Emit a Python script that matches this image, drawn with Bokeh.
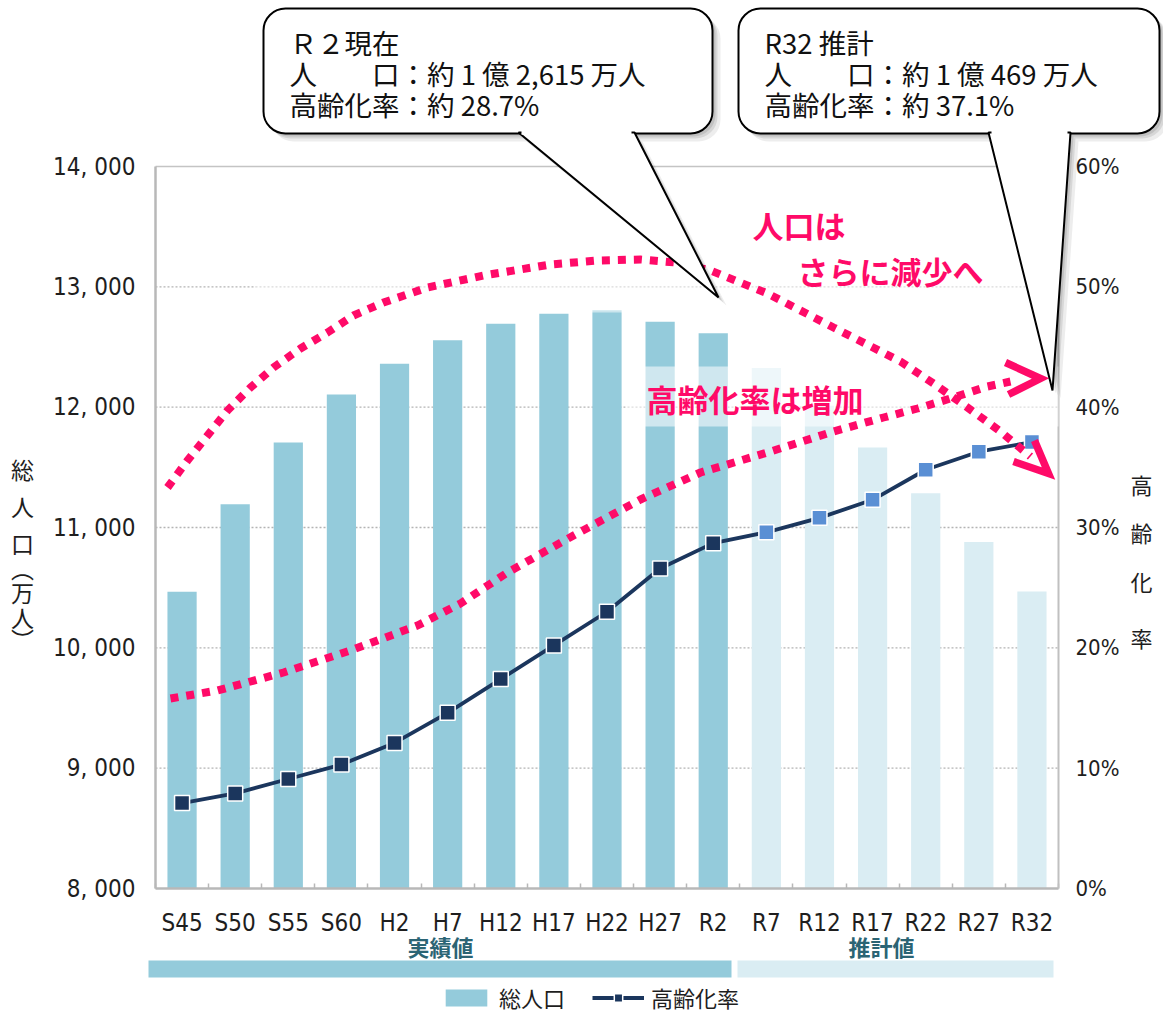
from bokeh.plotting import figure
from bokeh.models import (Range1d, LinearAxis, FixedTicker, Label, BoxAnnotation,
                          PolyAnnotation, Legend, LegendItem, ColumnDataSource)
from bokeh.core.properties import value
from bokeh.embed import file_html
from bokeh.resources import INLINE

# ---- data -------------------------------------------------------------
categories = ["S45", "S50", "S55", "S60", "H2", "H7", "H12", "H17", "H22", "H27",
              "R2", "R7", "R12", "R17", "R22", "R27", "R32"]
population = [10467, 11194, 11706, 12105, 12361, 12557, 12693, 12777, 12806, 12709,
              12615, 12326, 12012, 11664, 11284, 10880, 10469]          # 万人
aging_rate = [7.1, 7.9, 9.1, 10.3, 12.1, 14.6, 17.4, 20.2, 23.0, 26.6,
              28.7, 29.6, 30.8, 32.3, 34.8, 36.3, 37.1]                 # %
n_actual = 11  # S45 .. R2 are census results, the rest are projections

pop_ticks = [8000, 9000, 10000, 11000, 12000, 13000, 14000]
pop_tick_labels = ["8, 000", "9, 000", "10, 000", "11, 000", "12, 000", "13, 000", "14, 000"]
rate_ticks = [0, 10, 20, 30, 40, 50, 60]
rate_tick_labels = ["0%", "10%", "20%", "30%", "40%", "50%", "60%"]

# ---- styling ----------------------------------------------------------
ACT = "#94cbdb"
PROJ = "#daedf3"
NAVY = "#1b365d"
BLUE = "#5a8fd4"
PINK = "#ff0a68"
TEAL = "#2b6474"
GRID = "#b4b4b4"
AXIS = "#b8b8b8"
JP = "Noto Sans CJK JP"
NARROW = "DejaVu Sans Condensed, Liberation Sans Narrow, Roboto"

# The whole canvas is the plot frame; the value area sits inside it and the
# axes are pinned to its edges with fixed_location.
W, H = 1163, 1017
FL, FR, FT, FB = 155, 1058, 166, 888          # value-area edges on the canvas
x_lo, x_hi = -0.5, len(categories) - 0.5
y_lo, y_hi = pop_ticks[0], pop_ticks[-1]
r_lo, r_hi = rate_ticks[0], rate_ticks[-1]

PPX = (FR - FL) / (x_hi - x_lo)
PPY = (FB - FT) / (y_hi - y_lo)
x_start = x_lo - FL / PPX
x_end = x_start + W / PPX
y_start = y_lo - (H - FB) / PPY
y_end = y_start + H / PPY
r_per_y = (r_hi - r_lo) / (y_hi - y_lo)


def dx(px):
    """canvas x -> data x"""
    return x_start + px / PPX


def dy(py):
    """canvas y -> data y"""
    return y_end - py / PPY


p = figure(width=W, height=H, x_range=Range1d(x_start, x_end),
           y_range=Range1d(y_start, y_end),
           output_backend="svg", toolbar_location=None, title=None, min_border=0)
p.extra_y_ranges = {"rate": Range1d(r_lo + (y_start - y_lo) * r_per_y,
                                    r_lo + (y_end - y_lo) * r_per_y)}
p.background_fill_color = "white"
p.border_fill_color = "white"
p.outline_line_color = None
p.xgrid.visible = False
p.ygrid.visible = False

# x axis: labels at bar centres, small inward ticks between bars
xa = p.xaxis[0]
xa.fixed_location = y_lo
xa.bounds = (x_lo, x_hi)
xa.ticker = FixedTicker(ticks=list(range(len(categories))),
                        minor_ticks=[i + 0.5 for i in range(-1, len(categories))])
xa.major_label_overrides = {i: c for i, c in enumerate(categories)}
xa.major_tick_line_color = None
xa.minor_tick_in = 5
xa.minor_tick_out = 0
xa.minor_tick_line_color = AXIS
xa.minor_tick_line_width = 1.5
xa.axis_line_color = AXIS
xa.axis_line_width = 2.5
xa.major_label_text_font = NARROW
xa.major_label_text_font_size = "24px"
xa.major_label_text_color = "#1e1e1e"
xa.major_label_standoff = 14

# left axis: population
ya = p.yaxis[0]
ya.fixed_location = x_lo
ya.bounds = (y_lo, y_hi)
ya.ticker = FixedTicker(ticks=pop_ticks)
ya.major_label_overrides = dict(zip(pop_ticks, pop_tick_labels))
ya.major_tick_line_color = None
ya.minor_tick_line_color = None
ya.major_tick_out = 0
ya.axis_line_color = AXIS
ya.axis_line_width = 2.5
ya.major_label_text_font = NARROW
ya.major_label_text_font_size = "24px"
ya.major_label_text_color = "#1e1e1e"
ya.major_label_standoff = 20

# right axis: aging rate
ra = LinearAxis(y_range_name="rate", ticker=FixedTicker(ticks=rate_ticks),
                fixed_location=x_hi, bounds=(r_lo, r_hi))
ra.major_label_overrides = dict(zip(rate_ticks, rate_tick_labels))
ra.major_tick_line_color = None
ra.minor_tick_line_color = None
ra.major_tick_out = 0
ra.axis_line_color = "#c0c0c0"
ra.axis_line_width = 2
ra.major_label_text_font = NARROW
ra.major_label_text_font_size = "22px"
ra.major_label_text_color = "#1e1e1e"
ra.major_label_standoff = 17
p.add_layout(ra, "right")

# dotted horizontal grid and the thin top border of the value area
p.segment(x0=x_lo, x1=x_hi, y0=pop_ticks[1:-1], y1=pop_ticks[1:-1], line_color=GRID,
          line_dash="2 2", line_width=1.4, level="underlay")
p.segment(x0=x_lo, x1=x_hi, y0=y_hi, y1=y_hi, line_color="#c4c4c4", line_width=1.4,
          level="underlay")

# ---- series -----------------------------------------------------------
src = ColumnDataSource(dict(
    x=list(range(len(categories))),
    pop=population,
    rate=aging_rate,
    bar_color=[ACT if i < n_actual else PROJ for i in range(len(categories))],
    mk_color=[NAVY if i < n_actual else BLUE for i in range(len(categories))],
))
bars = p.vbar(x="x", top="pop", bottom=y_lo, width=0.55, fill_color="bar_color",
              line_color=None, source=src)

# translucent white panels behind the hand-written notes
p.add_layout(BoxAnnotation(left=dx(255), right=dx(FR), top=dy(168), bottom=dy(312),
                           fill_color="white", fill_alpha=0.5, line_color=None))
p.add_layout(BoxAnnotation(left=dx(625), right=dx(FR), top=dy(366), bottom=dy(426),
                           fill_color="white", fill_alpha=0.55, line_color=None))

rate_line = p.line("x", "rate", source=src, y_range_name="rate",
                   line_color=NAVY, line_width=3.8)
rate_pts = p.scatter("x", "rate", source=src, y_range_name="rate", marker="square",
                     size=15, fill_color="mk_color", line_color="white", line_width=1.5)

# ---- dotted trend arrows (canvas guide points) -----------------------
pop_trend = [(167, 487), (187, 460), (207, 435), (227, 410), (250, 387), (273, 367),
             (300, 348), (327, 332), (353, 315), (383, 302), (427, 287), (483, 275),
             (550, 264), (597, 260), (640, 259), (675, 262), (710, 270), (767, 293),
             (833, 327), (900, 361), (933, 383), (967, 407), (1000, 431), (1030, 456)]
pop_head = [(1013, 461), (1048, 473), (1034, 440)]
rate_trend = [(170, 698), (217, 690), (283, 672), (350, 650), (417, 625), (460, 603),
              (507, 572), (573, 535), (640, 499), (700, 472), (767, 452), (833, 431),
              (883, 417), (917, 408), (953, 397), (987, 386), (1010, 381)]
rate_head = [(1005, 362), (1040, 378), (1008, 394)]

for pts, head in ((pop_trend, pop_head), (rate_trend, rate_head)):
    p.line([dx(a) for a, b in pts], [dy(b) for a, b in pts], line_color=PINK,
           line_width=8, line_dash="8 8", level="overlay")
    p.line([dx(a) for a, b in head], [dy(b) for a, b in head], line_color=PINK,
           line_width=7.5, line_join="miter", level="overlay")

for txt, x0, y0 in (("人口は", 752, 224), ("さらに減少へ", 797, 270), ("高齢化率は増加", 646, 398)):
    p.add_layout(Label(x=dx(x0), y=dy(y0), text=txt, text_font=JP, text_font_size="31px",
                       text_font_style="bold", text_color=PINK, text_baseline="middle",
                       level="overlay"))


# ---- speech-bubble callouts ------------------------------------------
def callout(left, right, top, bottom, base_l, base_r, tip, lines, tx):
    for off, a in ((3, 0.10), (5, 0.09), (8, 0.07)):
        p.add_layout(BoxAnnotation(left=dx(left + off), right=dx(right + off),
                                   top=dy(top + off), bottom=dy(bottom + off),
                                   border_radius=22, fill_color="black", fill_alpha=a,
                                   line_color=None, level="overlay"))
        p.add_layout(PolyAnnotation(xs=[dx(base_l + off), dx(tip[0] + off), dx(base_r + off)],
                                    ys=[dy(bottom + off), dy(tip[1] + off), dy(bottom + off)],
                                    fill_color="black", fill_alpha=a, line_color=None,
                                    level="overlay"))
    p.add_layout(BoxAnnotation(left=dx(left), right=dx(right), top=dy(top), bottom=dy(bottom),
                               border_radius=22, fill_color="white", fill_alpha=1,
                               line_color="black", line_alpha=1, line_width=2,
                               level="overlay"))
    p.add_layout(PolyAnnotation(xs=[dx(base_l), dx(tip[0]), dx(base_r)],
                                ys=[dy(bottom - 1), dy(tip[1]), dy(bottom - 1)],
                                fill_color="white", fill_alpha=1, line_color="black",
                                line_alpha=1, line_width=2, level="overlay"))
    p.add_layout(BoxAnnotation(left=dx(base_l + 3), right=dx(base_r - 3),
                               top=dy(bottom - 4), bottom=dy(bottom + 1.3),
                               fill_color="white", fill_alpha=1, line_color=None,
                               level="overlay"))
    for k, line in enumerate(lines):
        p.add_layout(Label(x=dx(tx), y=dy(top + 33 + 31 * k), text=line, text_font=JP,
                           text_font_size="27.5px", text_color="#111111",
                           text_baseline="middle", level="overlay"))


callout(263, 712, 8, 133, 518, 634, (718, 297),
        ["Ｒ２現在", "人　　口：約 1 億 2,615 万人", "高齢化率：約 28.7%"], 289)
callout(738, 1159, 8, 133, 988, 1070, (1052, 390),
        ["R32 推計", "人　　口：約 1 億 469 万人", "高齢化率：約 37.1%"], 764)

# ---- vertical axis titles -------------------------------------------
for ch, yy in zip("総人口︵万人︶", (468, 505, 542, 567, 591, 616, 638)):
    p.add_layout(Label(x=dx(22), y=dy(yy), text=ch, text_font=JP, text_font_size="23px",
                       text_color="#1e1e1e", text_align="center", text_baseline="middle"))
for ch, yy in zip("高齢化率", (483, 531, 580, 636)):
    p.add_layout(Label(x=dx(1141), y=dy(yy), text=ch, text_font=JP, text_font_size="22px",
                       text_color="#1e1e1e", text_align="center", text_baseline="middle"))

# ---- result / projection band under the axis ------------------------
p.add_layout(BoxAnnotation(left=dx(148), right=dx(731), top=dy(960), bottom=dy(977),
                           fill_color=ACT, fill_alpha=1, line_color=None))
p.add_layout(BoxAnnotation(left=dx(737), right=dx(1053), top=dy(960), bottom=dy(977),
                           fill_color=PROJ, fill_alpha=1, line_color=None))
for txt, xc in (("実績値", 440), ("推計値", 881)):
    p.add_layout(Label(x=dx(xc), y=dy(945), text=txt, text_font=JP, text_font_size="22px",
                       text_font_style="bold", text_color=TEAL, text_align="center",
                       text_baseline="middle"))

# ---- legend ------------------------------------------------------------
legend = Legend(items=[LegendItem(label=value("総人口"), renderers=[bars], index=0),
                       LegendItem(label=value("高齢化率"), renderers=[rate_line, rate_pts], index=0)],
                location=(440, 4), orientation="horizontal",
                glyph_width=52, glyph_height=21, label_standoff=7, spacing=27,
                padding=0, margin=0, border_line_color=None, background_fill_alpha=0,
                label_text_font=JP, label_text_font_size="22px", label_text_color="#1e1e1e")
p.add_layout(legend)

open("out.html", "w").write(file_html(p, INLINE))
